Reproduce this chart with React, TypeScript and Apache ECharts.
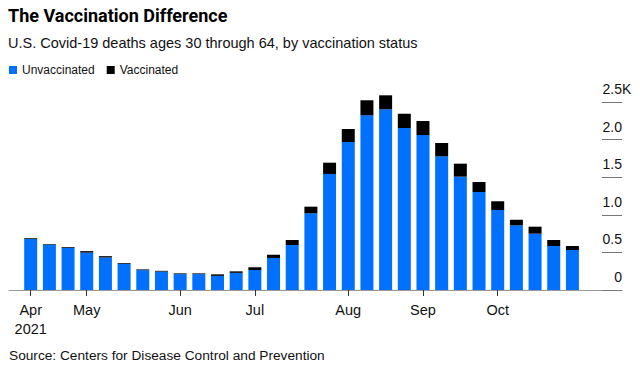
import React, { useEffect, useRef } from 'react';
import * as echarts from 'echarts';

// Weekly bars from early April to late October 2021
const weeks = ['w1', 'w2', 'w3', 'w4', 'w5', 'w6', 'w7', 'w8', 'w9', 'w10', 'w11', 'w12', 'w13', 'w14', 'w15', 'w16', 'w17', 'w18', 'w19', 'w20', 'w21', 'w22', 'w23', 'w24', 'w25', 'w26', 'w27', 'w28', 'w29', 'w30'];
const unvaccinated = [680, 603, 563, 497, 432, 348, 264, 245, 211, 211, 188, 228, 267, 426, 598, 1020, 1543, 1968, 2323, 2403, 2154, 2061, 1778, 1507, 1303, 1064, 860, 749, 585, 532];
const vaccinated = [10, 8, 8, 20, 18, 10, 10, 10, 10, 10, 20, 20, 35, 43, 67, 88, 150, 173, 200, 186, 190, 186, 177, 173, 133, 116, 74, 93, 80, 53];
const monthTickWeeks = [0, 3, 8, 12, 17, 21, 25];
const monthLabels = ['Apr\n2021', 'May', 'Jun', 'Jul', 'Aug', 'Sep', 'Oct'];
const yTicks = [0, 500, 1000, 1500, 2000, 2500];

const TITLE = 'The Vaccination Difference';
const SUBTITLE = 'U.S. Covid-19 deaths ages 30 through 64, by vaccination status';
const SOURCE = 'Source: Centers for Disease Control and Prevention';

const SANS = "'Liberation Sans', Arial, Helvetica, sans-serif";
const BOLD = "Roboto, 'Liberation Sans', Arial, sans-serif";
const BLUE = '#0070FF';

const isMonthTick = (index: number) => monthTickWeeks.indexOf(index) >= 0;

export default function App() {
  const ref = useRef<HTMLDivElement>(null);
  useEffect(() => {
    if (!ref.current) return;
    const chart = echarts.init(ref.current, undefined, { renderer: 'svg' });
    const option: any = {
      animation: false,
      backgroundColor: '#fff',
      title: [
        { text: TITLE, left: 8, top: 6, padding: 0, textStyle: { fontFamily: BOLD, fontWeight: 'bold', fontSize: 18, color: '#000' } },
        { text: SUBTITLE, left: 8, top: 35, padding: 0, textStyle: { fontFamily: SANS, fontWeight: 'normal', fontSize: 14.5, color: '#111' } },
        { text: SOURCE, left: 9, top: 348, padding: 0, textStyle: { fontFamily: SANS, fontWeight: 'normal', fontSize: 13.7, color: '#111' } },
      ],
      legend: {
        left: 9,
        top: 64,
        padding: 0,
        icon: 'rect',
        itemWidth: 8,
        itemHeight: 8,
        itemGap: 12,
        textStyle: { fontFamily: SANS, fontSize: 12, color: '#111' },
        data: ['Unvaccinated', 'Vaccinated'],
      },
      grid: [
        { left: 21.36, right: 58.24, top: 102, bottom: 82, containLabel: false },
        { left: 9, right: 18, top: 102, bottom: 82, containLabel: false },
      ],
      xAxis: [
        {
          type: 'category',
          gridIndex: 0,
          data: weeks,
          axisLine: { show: false, onZero: false },
          axisTick: { show: true, alignWithLabel: true, interval: (i: number) => isMonthTick(i), length: 6, lineStyle: { color: '#333' } },
          axisLabel: {
            interval: (i: number) => isMonthTick(i),
            formatter: (_v: string, i: number) => {
              const k = monthTickWeeks.indexOf(i);
              return k >= 0 ? monthLabels[k] : '';
            },
            fontFamily: SANS,
            fontSize: 14.5,
            lineHeight: 18.5,
            color: '#111',
            margin: 11,
          },
        },
        {
          type: 'value',
          gridIndex: 1,
          min: 0,
          max: 1,
          splitLine: { show: false },
          axisLine: { show: true, onZero: false, lineStyle: { color: '#999', width: 1 } },
          axisTick: { show: false },
          axisLabel: { show: false },
        },
      ],
      yAxis: [
        { type: 'value', gridIndex: 0, min: yTicks[0], max: yTicks[yTicks.length - 1], show: false },
        {
          type: 'value',
          gridIndex: 1,
          position: 'right',
          min: yTicks[0],
          max: yTicks[yTicks.length - 1],
          interval: 500,
          splitLine: { show: false },
          axisLine: { show: false, onZero: false },
          axisTick: { show: true, inside: true, length: 20, lineStyle: { color: '#777' } },
          axisLabel: {
            inside: true,
            margin: 0,
            fontFamily: SANS,
            fontSize: 14,
            lineHeight: 14,
            color: '#111',
            verticalAlign: 'bottom',
            padding: [0, 0, 6, 0],
            formatter: (v: number) => (v === 0 ? '0' : (v / 1000).toFixed(1)),
          },
        },
      ],
      series: [
        {
          name: 'Unvaccinated',
          type: 'bar',
          xAxisIndex: 0,
          yAxisIndex: 0,
          stack: 'deaths',
          barWidth: 13,
          clip: false,
          itemStyle: { color: BLUE },
          data: unvaccinated,
        },
        {
          name: 'Vaccinated',
          type: 'bar',
          xAxisIndex: 0,
          yAxisIndex: 0,
          stack: 'deaths',
          barWidth: 13,
          clip: false,
          itemStyle: { color: '#000' },
          data: vaccinated,
        },
      ],
    };
    chart.setOption(option);
    const topY = chart.convertToPixel({ yAxisIndex: 1 }, yTicks[yTicks.length - 1]) as number;
    const axisX = chart.convertToPixel({ xAxisIndex: 1 }, 1) as number;
    chart.setOption({
      graphic: [
        {
          type: 'text',
          x: axisX,
          y: topY - 6,
          style: { text: 'K', fontFamily: SANS, fontSize: 14, lineHeight: 14, fill: '#111', align: 'left', verticalAlign: 'bottom' },
        },
      ],
    });
    return () => chart.dispose();
  }, []);
  return <div ref={ref} style={{ position: 'fixed', left: 0, top: 0, width: 640, height: 372 }} />;
}
